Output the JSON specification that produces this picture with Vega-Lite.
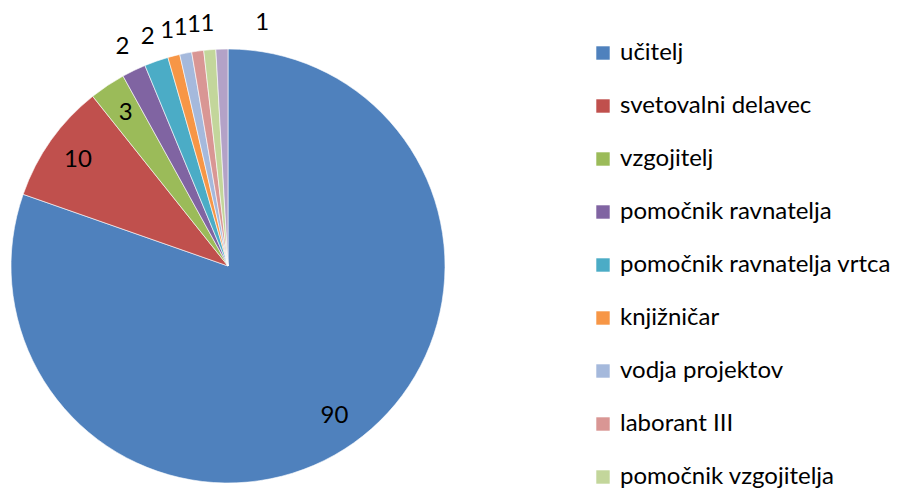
{
  "$schema": "https://vega.github.io/schema/vega-lite/v6.json",
  "autosize": "none",
  "width": 456,
  "height": 462,
  "padding": {"left": 0, "top": 35, "right": 442, "bottom": 0},
  "background": "white",
  "config": {"view": {"stroke": null}, "font": "Lato"},
  "data": {"values": [
    {"role": "učitelj", "count": 90, "order": 1},
    {"role": "svetovalni delavec", "count": 10, "order": 2},
    {"role": "vzgojitelj", "count": 3, "order": 3},
    {"role": "pomočnik ravnatelja", "count": 2, "order": 4},
    {"role": "pomočnik ravnatelja vrtca", "count": 2, "order": 5},
    {"role": "knjižničar", "count": 1, "order": 6},
    {"role": "vodja projektov", "count": 1, "order": 7},
    {"role": "laborant III", "count": 1, "order": 8},
    {"role": "pomočnik vzgojitelja", "count": 1, "order": 9},
    {"role": "ostalo", "count": 1, "order": 10}
  ]},
  "encoding": {
    "theta": {"field": "count", "type": "quantitative", "stack": true},
    "order": {"field": "order", "type": "quantitative"}
  },
  "layer": [
    {
      "mark": {"type": "arc", "outerRadius": 217, "stroke": "#ffffff", "strokeWidth": 0.6},
      "encoding": {
        "color": {
          "field": "role", "type": "nominal",
          "scale": {
            "domain": ["učitelj", "svetovalni delavec", "vzgojitelj", "pomočnik ravnatelja", "pomočnik ravnatelja vrtca", "knjižničar", "vodja projektov", "laborant III", "pomočnik vzgojitelja", "ostalo"],
            "range": ["#4F81BD", "#C0504D", "#9BBB59", "#8064A2", "#4BACC6", "#F79646", "#A5B9DC", "#D99694", "#C3D69B", "#B3A2C7"]
          },
          "legend": {
            "title": null,
            "orient": "none",
            "legendX": 591,
            "legendY": 6,
            "padding": 0,
            "values": ["učitelj", "svetovalni delavec", "vzgojitelj", "pomočnik ravnatelja", "pomočnik ravnatelja vrtca", "knjižničar", "vodja projektov", "laborant III", "pomočnik vzgojitelja"],
            "symbolType": "square",
            "symbolSize": 180,
            "symbolStrokeWidth": 0,
            "symbolOffset": 0,
            "labelFontSize": 24,
            "labelFont": "Lato",
            "labelColor": "#000000",
            "labelOffset": 5,
            "labelLimit": 400,
            "rowPadding": 29
          }
        }
      }
    },
    {
      "mark": {"type": "text", "radius": 184, "fontSize": 24, "font": "Lato", "color": "#000000"},
      "encoding": {
        "text": {"condition": {"test": "datum.count >= 3", "field": "count", "type": "quantitative"}, "value": ""}
      }
    },
    {
      "mark": {"type": "text", "radius": 243, "fontSize": 24, "font": "Lato", "color": "#000000"},
      "encoding": {
        "text": {"condition": {"test": "datum.count < 3 && datum.order < 10", "field": "count", "type": "quantitative"}, "value": ""}
      }
    },
    {
      "mark": {"type": "text", "radius": 243, "dx": 41, "fontSize": 24, "font": "Lato", "color": "#000000"},
      "encoding": {
        "text": {"condition": {"test": "datum.order == 10", "field": "count", "type": "quantitative"}, "value": ""}
      }
    }
  ]
}
